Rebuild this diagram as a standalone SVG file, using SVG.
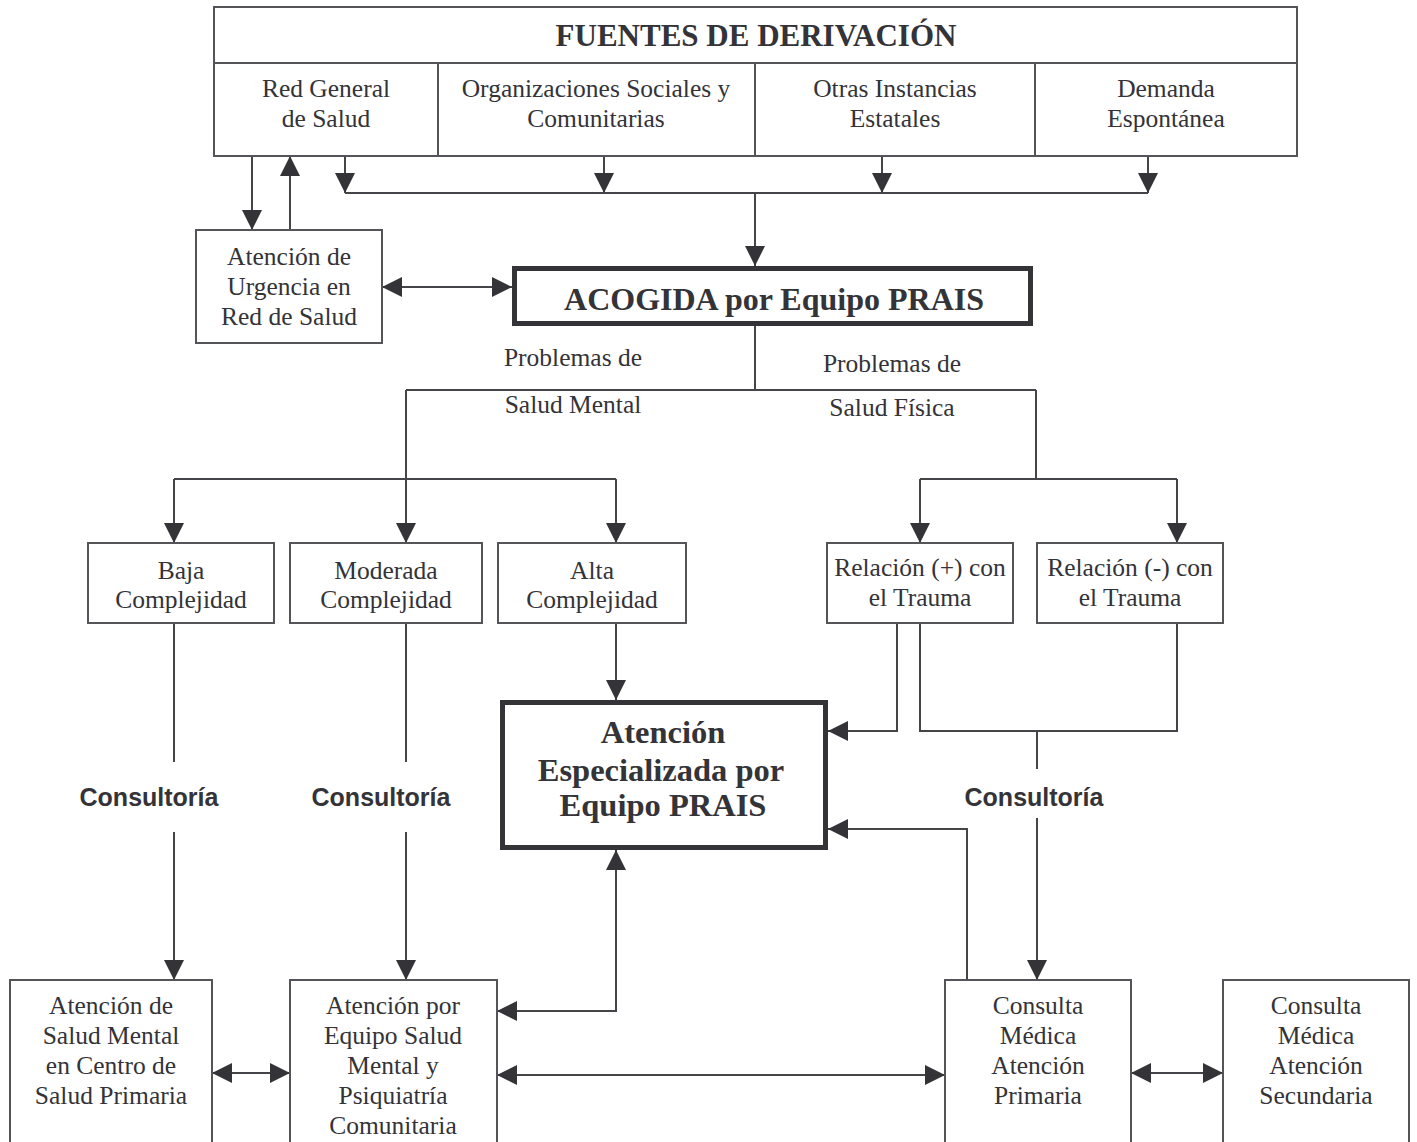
<svg xmlns="http://www.w3.org/2000/svg" width="1417" height="1142" viewBox="0 0 1417 1142">
<style>
.box{fill:#fff;stroke:#555559;stroke-width:2}
.thick{fill:#fff;stroke:#333338;stroke-width:5}
.t{font-family:"Liberation Serif","Times New Roman",serif;font-size:25.5px;fill:#333338;text-anchor:middle}
.b{font-family:"Liberation Serif","Times New Roman",serif;font-size:31px;font-weight:bold;fill:#333338;text-anchor:middle}
.s{font-family:"Liberation Sans",Arial,sans-serif;font-size:25px;font-weight:bold;fill:#333338;text-anchor:middle}
.c{fill:none;stroke:#444449;stroke-width:2}
.a{marker-end:url(#ah)}
.aa{marker-end:url(#ah);marker-start:url(#ah)}
</style>
<defs>
<marker id="ah" markerUnits="userSpaceOnUse" markerWidth="20" markerHeight="20" refX="20" refY="10" orient="auto-start-reverse">
<path d="M0,0 L20,10 L0,20 Z" fill="#333338"/>
</marker>
</defs>
<rect width="1417" height="1142" fill="#fff"/>
<g id="connectors">
<path class="c a" d="M252,156 V230"/>
<path class="c a" d="M290,230 V156"/>
<path class="c a" d="M345,156 V193"/>
<path class="c a" d="M604,156 V193"/>
<path class="c a" d="M882,156 V193"/>
<path class="c a" d="M1148,156 V193"/>
<path class="c" d="M345,193 H1148"/>
<path class="c a" d="M755,193 V266"/>
<path class="c aa" d="M382,287 H512"/>
<path class="c" d="M755,326 V390 M406,390 H1036"/>
<path class="c a" d="M406,390 V543"/>
<path class="c" d="M174,479 H616"/>
<path class="c a" d="M174,479 V543"/>
<path class="c a" d="M616,479 V543"/>
<path class="c" d="M1036,390 V479 M920,479 H1177"/>
<path class="c a" d="M920,479 V543"/>
<path class="c a" d="M1177,479 V543"/>
<path class="c" d="M174,623 V762"/>
<path class="c a" d="M174,832 V980"/>
<path class="c" d="M406,623 V762"/>
<path class="c a" d="M406,832 V980"/>
<path class="c a" d="M616,623 V700"/>
<path class="c a" d="M897,623 V731 H828"/>
<path class="c" d="M920,623 V731 H1177 V623"/>
<path class="c" d="M1037,731 V769"/>
<path class="c a" d="M1037,818 V980"/>
<path class="c a" d="M967,980 V829 H828"/>
<path class="c aa" d="M616,850 V1011 H497"/>
<path class="c aa" d="M212,1073 H290"/>
<path class="c aa" d="M497,1075 H945"/>
<path class="c aa" d="M1131,1073 H1223"/>
</g>
<g id="fuentes">
<rect class="box" x="214" y="7" width="1083" height="149"/>
<path class="c" d="M214,63 H1297 M438,63 V156 M755,63 V156 M1035,63 V156" style="stroke:#555559"/>
<text class="b" x="756" y="46">FUENTES DE DERIVACIÓN</text>
<text class="t" x="326" y="97">Red General</text>
<text class="t" x="326" y="127">de Salud</text>
<text class="t" x="596" y="97">Organizaciones Sociales y</text>
<text class="t" x="596" y="127">Comunitarias</text>
<text class="t" x="895" y="97">Otras Instancias</text>
<text class="t" x="895" y="127">Estatales</text>
<text class="t" x="1166" y="97">Demanda</text>
<text class="t" x="1166" y="127">Espontánea</text>
</g>
<g id="urgencia">
<rect class="box" x="196" y="230" width="186" height="113"/>
<text class="t" x="289" y="265">Atención de</text>
<text class="t" x="289" y="295">Urgencia en</text>
<text class="t" x="289" y="325">Red de Salud</text>
</g>
<g id="acogida">
<rect class="thick" x="514.5" y="268.5" width="516" height="55"/>
<text class="b" x="774" y="310" style="font-size:32px">ACOGIDA por Equipo PRAIS</text>
</g>
<g id="labels">
<text class="t" x="573" y="366">Problemas de</text>
<text class="t" x="573" y="413">Salud Mental</text>
<text class="t" x="892" y="372">Problemas de</text>
<text class="t" x="892" y="416">Salud Física</text>
<text class="s" x="149" y="806">Consultoría</text>
<text class="s" x="381" y="806">Consultoría</text>
<text class="s" x="1034" y="806">Consultoría</text>
</g>
<g id="baja">
<rect class="box" x="88" y="543" width="186" height="80"/>
<text class="t" x="181" y="579">Baja</text>
<text class="t" x="181" y="608">Complejidad</text>
</g>
<g id="moderada">
<rect class="box" x="290" y="543" width="192" height="80"/>
<text class="t" x="386" y="579">Moderada</text>
<text class="t" x="386" y="608">Complejidad</text>
</g>
<g id="alta">
<rect class="box" x="498" y="543" width="188" height="80"/>
<text class="t" x="592" y="579">Alta</text>
<text class="t" x="592" y="608">Complejidad</text>
</g>
<g id="relacion-pos">
<rect class="box" x="827" y="543" width="186" height="80"/>
<text class="t" x="920" y="576">Relación (+) con</text>
<text class="t" x="920" y="606">el Trauma</text>
</g>
<g id="relacion-neg">
<rect class="box" x="1037" y="543" width="186" height="80"/>
<text class="t" x="1130" y="576">Relación (-) con</text>
<text class="t" x="1130" y="606">el Trauma</text>
</g>
<g id="especializada">
<rect class="thick" x="502.5" y="702.5" width="323" height="145"/>
<text class="b" x="663" y="743" style="font-size:32.5px">Atención</text>
<text class="b" x="661" y="781" style="font-size:32.5px">Especializada por</text>
<text class="b" x="663" y="816" style="font-size:32.5px">Equipo PRAIS</text>
</g>
<g id="salud-mental-primaria">
<rect class="box" x="10" y="980" width="202" height="175"/>
<text class="t" x="111" y="1014">Atención de</text>
<text class="t" x="111" y="1044">Salud Mental</text>
<text class="t" x="111" y="1074">en Centro de</text>
<text class="t" x="111" y="1104">Salud Primaria</text>
</g>
<g id="equipo-salud-mental">
<rect class="box" x="290" y="980" width="207" height="175"/>
<text class="t" x="393" y="1014">Atención por</text>
<text class="t" x="393" y="1044">Equipo Salud</text>
<text class="t" x="393" y="1074">Mental y</text>
<text class="t" x="393" y="1104">Psiquiatría</text>
<text class="t" x="393" y="1134">Comunitaria</text>
</g>
<g id="consulta-primaria">
<rect class="box" x="945" y="980" width="186" height="175"/>
<text class="t" x="1038" y="1014">Consulta</text>
<text class="t" x="1038" y="1044">Médica</text>
<text class="t" x="1038" y="1074">Atención</text>
<text class="t" x="1038" y="1104">Primaria</text>
</g>
<g id="consulta-secundaria">
<rect class="box" x="1223" y="980" width="186" height="175"/>
<text class="t" x="1316" y="1014">Consulta</text>
<text class="t" x="1316" y="1044">Médica</text>
<text class="t" x="1316" y="1074">Atención</text>
<text class="t" x="1316" y="1104">Secundaria</text>
</g>
</svg>
